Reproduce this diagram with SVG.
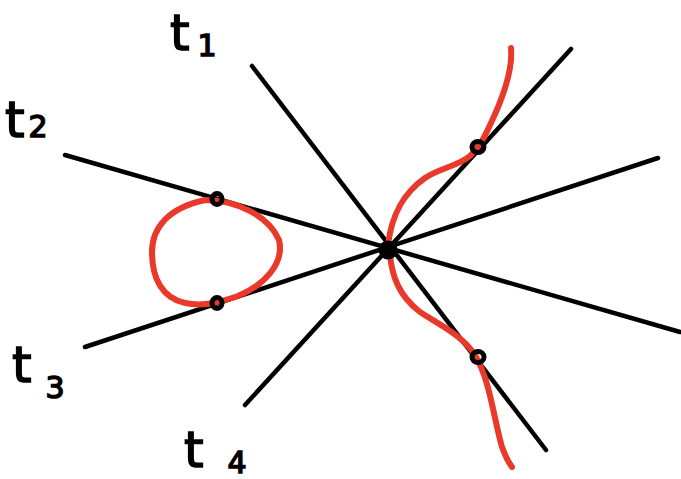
<svg xmlns="http://www.w3.org/2000/svg" width="681" height="479" viewBox="0 0 681 479">
<style>
.ln{stroke:#000;stroke-width:4.5;stroke-linecap:round;fill:none}
.rd{stroke:#e8392a;stroke-width:6;stroke-linecap:round;stroke-linejoin:round;fill:none}
.dot{stroke:#000;stroke-width:5;fill:none}
.lb{font-family:"DejaVu Sans","Liberation Sans",sans-serif;fill:#000;stroke:#000;stroke-width:1.5}
.t{font-size:50px}
.s{font-size:30px}
</style>
<rect width="681" height="479" fill="#fff"/>
<g id="connectors">
<line class="ln" x1="252" y1="66" x2="546" y2="450"/>
<line class="ln" x1="65" y1="155" x2="680" y2="332"/>
<line class="ln" x1="85" y1="347" x2="658" y2="158"/>
<line class="ln" x1="245" y1="405" x2="571" y2="49"/>
</g>
<g id="curves">
<path class="rd" d="M511,48 C513,70 502,100 490,125 C484,138 480,146 470,156 C458,166 440,168 425,178 C405,192 392,212 388,245"/>
<path class="rd" d="M390,255 C392,275 398,295 420,312 C440,325 462,335 475,355 C490,380 494,420 502,447 C506,458 509,463 512,467"/>
<path class="rd" d="M205,200 C235,200 268,215 279,240 C285,265 262,286 238,296 C220,302 205,307 185,303 C162,298 152,278 152,252 C152,228 168,208 205,200 Z"/>
</g>
<g id="center"><circle cx="388" cy="250" r="9.5" fill="#000"/></g>
<g id="p1"><ellipse class="dot" cx="217" cy="199" rx="5" ry="5.5"/></g>
<g id="p2"><ellipse class="dot" cx="217" cy="303" rx="5" ry="5.5"/></g>
<g id="p3"><ellipse class="dot" cx="478" cy="147" rx="6" ry="5.5"/></g>
<g id="p4"><ellipse class="dot" cx="478" cy="357" rx="6" ry="5.5"/></g>
<g id="t1"><text class="lb" x="170" y="50"><tspan class="t">t</tspan><tspan class="s" dx="8" dy="6">1</tspan></text></g>
<g id="t2"><text class="lb" x="5" y="137"><tspan class="t">t</tspan><tspan class="s" dx="4">2</tspan></text></g>
<g id="t3"><text class="lb" x="12" y="382"><tspan class="t">t</tspan><tspan class="s" dx="14" dy="16">3</tspan></text></g>
<g id="t4"><text class="lb" x="184" y="467"><tspan class="t">t</tspan><tspan class="s" dx="24" dy="6">4</tspan></text></g>
</svg>
